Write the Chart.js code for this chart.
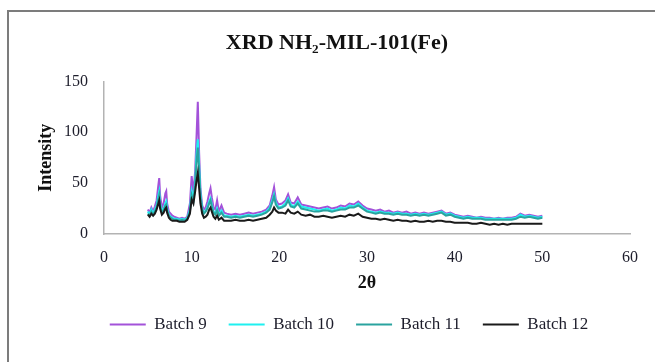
<!DOCTYPE html>
<html>
<head>
<meta charset="utf-8">
<title>XRD NH2-MIL-101(Fe)</title>
<script src="https://cdn.jsdelivr.net/npm/chart.js@4.4.1/dist/chart.umd.min.js"></script>
<style>
  html, body { margin: 0; padding: 0; background: #fff; }
  #wrap { position: relative; width: 655px; height: 362px; }
</style>
</head>
<body>
<div id="wrap"><canvas id="xrd-chart" width="655" height="362"></canvas></div>
<script>
// 2-theta positions (degrees)
const twoTheta = [
  5.0, 5.2, 5.4, 5.6, 5.8, 6.0, 6.2, 6.3, 6.4, 6.6, 6.8, 7.0, 7.1, 7.2, 7.4, 7.6, 7.8, 8.0,
  8.3, 8.6, 8.9, 9.2, 9.5, 9.8, 10.0,
  10.2, 10.4, 10.55, 10.7, 10.85, 11.0, 11.2, 11.4, 11.6, 11.8,
  12.0, 12.15, 12.3, 12.5, 12.7, 12.9, 13.1, 13.4, 13.7, 14.0,
  14.5, 15.0, 15.5, 16.0, 16.5, 17.0, 17.5, 18.0, 18.5, 18.9,
  19.2, 19.4, 19.6, 19.9, 20.3, 20.7, 21.0, 21.3, 21.7, 22.1, 22.5,
  23.0, 23.5, 24.0, 24.5, 25.0, 25.5, 26.0, 26.5, 27.0, 27.5, 28.0, 28.5, 29.0, 29.5, 30.0,
  30.5, 31.0, 31.5, 32.0, 32.5, 33.0, 33.5, 34.0, 34.5, 35.0, 35.5, 36.0, 36.5, 37.0, 37.5, 38.0, 38.5, 39.0, 39.5, 40.0,
  40.5, 41.0, 41.5, 42.0, 42.5, 43.0, 43.5, 44.0, 44.5, 45.0, 45.5, 46.0, 46.5, 47.0, 47.5, 48.0, 48.5, 49.0, 49.5, 50.0
];

const batch9 = [
  24, 21, 26, 22, 27, 33, 48, 55, 38, 26, 30, 40, 42, 30, 22, 20, 18, 17,
  16, 15, 16, 15, 17, 30, 57,
  40, 62, 95, 130, 80, 45, 28, 24, 26, 32,
  40, 45, 36, 26, 24, 33, 22, 28, 21, 20,
  19, 20, 19, 20, 21, 20, 21, 22, 24, 28,
  38, 46, 34, 29, 30, 33, 39, 31, 30, 36, 29,
  28, 27, 26, 25, 26, 27, 25, 26, 28, 27, 30, 29, 32, 28, 25,
  24, 23, 24, 22, 23, 21, 22, 21, 22, 20, 21, 20, 21, 20, 21, 22, 23, 20, 21, 19,
  18, 17, 18, 17, 16, 17, 16, 16, 15, 16, 15, 16, 16, 17, 20, 18, 19, 18, 17, 18
];

const batch10 = [
  22, 19, 24, 20, 24, 28, 38, 42, 30, 22, 25, 30, 32, 25, 19, 17, 16, 15,
  15, 14, 15, 14, 16, 24, 42,
  34, 52, 78, 93, 68, 40, 25, 21, 23, 27,
  32, 35, 29, 22, 20, 25, 19, 23, 18, 18,
  17, 18, 17, 18, 19, 18, 19, 20, 22, 26,
  33, 39, 31, 26, 27, 30, 35, 29, 27, 32, 27,
  26, 25, 24, 23, 24, 25, 23, 24, 26, 25, 28, 27, 30, 26, 23,
  22, 21, 22, 21, 21, 20, 21, 20, 20, 19, 20, 19, 20, 19, 20, 21, 22, 19, 20, 18,
  17, 16, 17, 16, 16, 16, 15, 15, 15, 15, 15, 15, 15, 16, 19, 17, 18, 17, 16, 17
];

const batch11 = [
  20, 18, 22, 19, 22, 26, 34, 38, 28, 21, 23, 28, 29, 23, 18, 16, 15, 14,
  14, 13, 14, 13, 15, 22, 38,
  32, 48, 70, 85, 62, 37, 24, 20, 22, 25,
  30, 33, 27, 21, 19, 23, 18, 21, 17, 17,
  16, 17, 16, 17, 18, 17, 18, 19, 21, 24,
  31, 37, 29, 25, 26, 28, 33, 27, 26, 30, 25,
  24, 23, 22, 22, 23, 23, 22, 23, 24, 24, 26, 26, 28, 25, 22,
  21, 20, 21, 20, 20, 19, 20, 19, 19, 18, 19, 18, 19, 18, 19, 20, 21, 18, 19, 17,
  16, 15, 16, 15, 15, 15, 14, 14, 14, 14, 14, 14, 14, 15, 17, 16, 17, 16, 15, 16
];

const batch12 = [
  19, 17, 20, 18, 20, 24, 30, 33, 25, 19, 21, 25, 26, 21, 16, 14, 13, 13,
  13, 12, 12, 12, 14, 20, 34,
  30, 42, 52, 60, 45, 30, 20, 16, 17, 19,
  24, 26, 22, 17, 15, 18, 14, 16, 13, 13,
  13, 14, 13, 13, 14, 13, 14, 15, 16, 19,
  22, 26, 23, 21, 21, 20, 24, 21, 20, 22, 19,
  18, 19, 17, 17, 18, 17, 16, 17, 18, 17, 19, 18, 20, 17, 16,
  15, 15, 14, 15, 14, 13, 14, 13, 13, 12, 13, 12, 12, 13, 12, 13, 13, 12, 12, 11,
  11, 11, 11, 10, 10, 11, 10, 9, 10, 9, 10, 9, 10, 10, 10, 10, 10, 10, 10, 10
];

const seriesNames = ["Batch 9", "Batch 10", "Batch 11", "Batch 12"];
const seriesValues = [batch9, batch10, batch11, batch12];
const seriesColors = ["#a352d9", "#1ff0f0", "#2aa39f", "#1a1a1a"];

const serif = '"Liberation Serif", "DejaVu Serif", serif';
const textColor = "#1d1d2b";

let toPoints = (values) => values.map((v, i) => ({ x: twoTheta[i], y: v }));

// later batches are painted over earlier ones
const datasets = seriesNames.map((name, i) => ({
  label: name,
  data: toPoints(seriesValues[i]),
  borderColor: seriesColors[i],
  backgroundColor: seriesColors[i],
  borderWidth: 2,
  pointRadius: 0,
  tension: 0,
  order: seriesNames.length - i,
}));

// white page with the grey frame round the chart
const framePlugin = {
  id: "frame",
  beforeDraw(chart) {
    const c = chart.ctx;
    c.save();
    c.fillStyle = "#fff";
    c.fillRect(0, 0, chart.width, chart.height);
    c.strokeStyle = "#7c7c7c";
    c.lineWidth = 2;
    c.strokeRect(8, 11, chart.width + 20, chart.height + 20);
    c.restore();
  },
};

// nudge the title and legend rows to the right of the canvas centre
const boxShift = {
  id: "boxShift",
  afterLayout(chart) {
    chart.legend.left += 34;
    chart.legend.right += 34;
    chart.titleBlock.left += 22;
    chart.titleBlock.right += 22;
  },
};

const ctx = document.getElementById("xrd-chart");
const xrdChart = new Chart(ctx, {
  type: "line",
  data: { datasets: datasets },
  options: {
    responsive: false,
    animation: false,
    layout: { padding: { left: 0, right: 25, top: 0, bottom: 19 } },
    scales: {
      x: {
        type: "linear",
        min: 0,
        max: 60,
        ticks: { stepSize: 10, color: textColor, padding: 14, font: { family: serif, size: 16 } },
        grid: { display: false, drawTicks: false },
        border: { display: true, color: "#b3b3b3", width: 1.5 },
        title: {
          display: true,
          text: "2θ",
          color: "#111",
          padding: { top: 0, bottom: 0 },
          font: { family: serif, size: 18, weight: "bold" },
        },
        afterFit: (scale) => { scale.height = 60; },
      },
      y: {
        min: 0,
        max: 150,
        ticks: { stepSize: 50, color: textColor, padding: 16, font: { family: serif, size: 16 } },
        grid: { display: false, drawTicks: false },
        border: { display: true, color: "#b3b3b3", width: 1.5 },
        title: {
          display: true,
          text: "Intensity",
          color: "#111",
          padding: { top: 36, bottom: 0 },
          font: { family: serif, size: 18, weight: "bold" },
        },
        afterFit: (scale) => { scale.width = 104; },
      },
    },
    plugins: {
      title: {
        display: true,
        text: "XRD NH₂-MIL-101(Fe)",
        color: "#111",
        padding: { top: 30, bottom: 25 },
        font: { family: serif, size: 22, weight: "bold" },
      },
      legend: {
        position: "bottom",
        labels: {
          usePointStyle: true,
          pointStyle: "line",
          pointStyleWidth: 36,
          padding: 22,
          color: textColor,
          font: { family: serif, size: 17 },
          sort: (a, b) => a.datasetIndex - b.datasetIndex,
        },
      },
      tooltip: { enabled: false },
    },
  },
  plugins: [framePlugin, boxShift],
});
</script>
</body>
</html>
